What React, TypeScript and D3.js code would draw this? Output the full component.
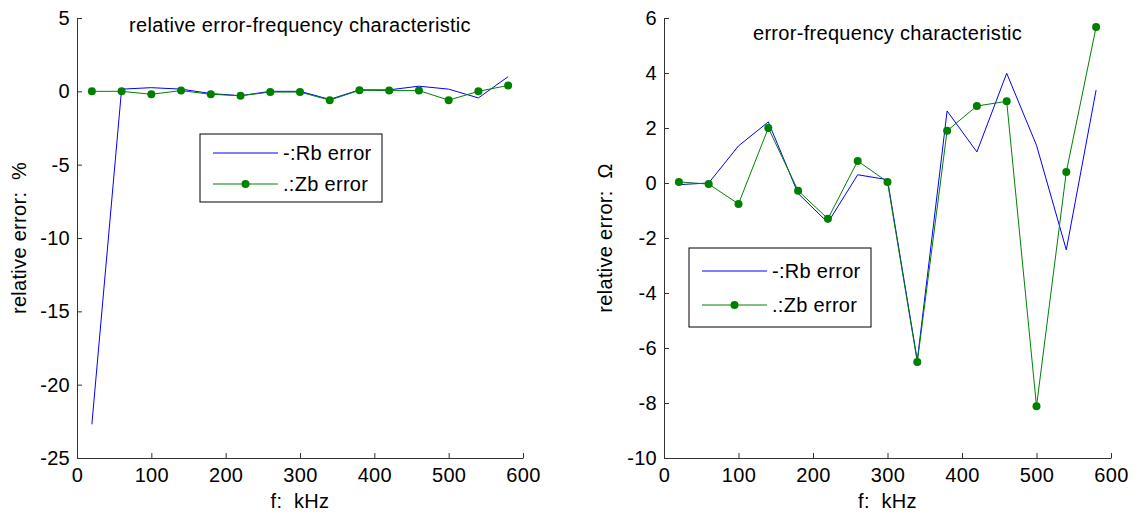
import React, { useEffect, useRef } from "react";
import * as d3 from "d3";

// frequency points, kHz
const freq = [20, 60, 100, 140, 180, 220, 260, 300, 340, 380, 420, 460, 500, 540, 580];

// left panel: relative error, %
const relRb = [-22.7, 0.15, 0.25, 0.15, -0.15, -0.3, 0, 0, -0.55, 0.1, 0.1, 0.35, 0.15, -0.45, 1.0];
const relZb = [0, 0, -0.2, 0.05, -0.2, -0.3, -0.05, -0.05, -0.6, 0.07, 0.05, 0.05, -0.6, 0, 0.4];

// right panel: error, ohm
const absRb = [-0.06, 0, 1.35, 2.22, -0.38, -1.44, 0.3, 0.12, -6.45, 2.62, 1.13, 3.99, 1.37, -2.43, 3.38];
const absZb = [0.04, -0.04, -0.76, 2.0, -0.28, -1.3, 0.8, 0.04, -6.51, 1.9, 2.8, 2.97, -8.12, 0.4, 5.67];

const xTicks = [0, 100, 200, 300, 400, 500, 600];
const leftYTicks = [-25, -20, -15, -10, -5, 0, 5];
const rightYTicks = [-10, -8, -6, -4, -2, 0, 2, 4, 6];

const seriesNames = ["-:Rb error", ".:Zb error"];

const FONT = "Liberation Sans, Arial, Helvetica, sans-serif";
const FS = 20;
const LS = "0.3px";
const AXIS = "#333";
const BLUE = "#0000ff";
const GREEN = "#008000";

const panels = [
  {
    left: 77, right: 523, top: 18, bottom: 458,
    yDomain: [-25, 5], yTicks: leftYTicks,
    rb: relRb, zb: relZb,
    title: "relative error-frequency characteristic", titleY: 32,
    yLabel: "relative error:  %", yLabelX: 26,
    legend: { x0: 200, x1: 382, y0: 134, y1: 202, rows: [153, 184] },
  },
  {
    left: 664, right: 1111, top: 18, bottom: 458,
    yDomain: [-10, 6], yTicks: rightYTicks,
    rb: absRb, zb: absZb,
    title: "error-frequency characteristic", titleY: 40,
    yLabel: "relative error:  \u03a9", yLabelX: 612,
    legend: { x0: 689, x1: 871, y0: 248, y1: 327, rows: [271, 305] },
  },
];

// plain hyphen for negatives, like the original
const fmt = (d: number) => String(d);

const App = () => {
  const ref = useRef(null);

  useEffect(() => {
    const svg = d3.select(ref.current);
    svg.selectAll("*").remove();

    panels.forEach(p => {
      const x = d3.scaleLinear().domain([0, 600]).range([p.left, p.right]);
      const y = d3.scaleLinear().domain(p.yDomain).range([p.bottom, p.top]);
      const g = svg.append("g").attr("font-family", FONT).attr("font-size", FS).attr("letter-spacing", LS);

      // axes (left + bottom only, ticks pointing inward)
      g.append("g")
        .attr("transform", `translate(0,${p.bottom})`)
        .call(d3.axisBottom(x).tickValues(xTicks).tickFormat(fmt).tickSize(-5).tickPadding(10).tickSizeOuter(0))
        .call(a => a.selectAll("text").attr("font-size", FS).attr("font-family", FONT).attr("fill", "#000"))
        .call(a => a.selectAll("line,path").attr("stroke", AXIS));
      g.append("g")
        .attr("transform", `translate(${p.left},0)`)
        .call(d3.axisLeft(y).tickValues(p.yTicks).tickFormat(fmt).tickSize(-5).tickPadding(7).tickSizeOuter(0))
        .call(a => a.selectAll("text").attr("font-size", FS).attr("font-family", FONT).attr("fill", "#000"))
        .call(a => a.selectAll("line,path").attr("stroke", AXIS));

      const pts = (vals: number[]) => freq.map((f, i) => [x(f), y(vals[i])] as [number, number]);
      const line = d3.line();

      g.append("path").attr("d", line(pts(p.rb))).attr("fill", "none").attr("stroke", BLUE).attr("stroke-width", 1);
      g.append("path").attr("d", line(pts(p.zb))).attr("fill", "none").attr("stroke", GREEN).attr("stroke-width", 1);
      g.selectAll(".dot")
        .data(pts(p.zb))
        .join("circle")
        .attr("cx", d => d[0])
        .attr("cy", d => d[1])
        .attr("r", 4)
        .attr("fill", GREEN);

      // title + labels
      const cx = (p.left + p.right) / 2;
      g.append("text").attr("x", cx).attr("y", p.titleY).attr("text-anchor", "middle").text(p.title);
      g.append("text").attr("x", cx).attr("y", 508).attr("text-anchor", "middle").text("f:  kHz").style("white-space", "pre");
      g.append("text")
        .attr("transform", `translate(${p.yLabelX},${(p.top + p.bottom) / 2}) rotate(-90)`)
        .attr("text-anchor", "middle")
        .style("white-space", "pre")
        .text(p.yLabel);

      // legend
      const L = p.legend;
      g.append("rect")
        .attr("x", L.x0).attr("y", L.y0)
        .attr("width", L.x1 - L.x0).attr("height", L.y1 - L.y0)
        .attr("fill", "#fff").attr("stroke", "#000").attr("stroke-width", 1);
      const lx0 = L.x0 + 13, lx1 = L.x0 + 78;
      [BLUE, GREEN].forEach((c, i) => {
        const ry = L.rows[i];
        g.append("line").attr("x1", lx0).attr("x2", lx1).attr("y1", ry).attr("y2", ry).attr("stroke", c);
        if (i === 1) g.append("circle").attr("cx", (lx0 + lx1) / 2).attr("cy", ry).attr("r", 4).attr("fill", c);
        g.append("text").attr("x", lx1 + 5).attr("y", ry).attr("dy", "0.35em").text(seriesNames[i]);
      });
    });
  }, []);

  return (
    <div style={{ position: "absolute", left: 0, top: 0 }}>
      <svg ref={ref} width={1137} height={515} style={{ display: "block", background: "#fff" }} />
    </div>
  );
};

export default App;
